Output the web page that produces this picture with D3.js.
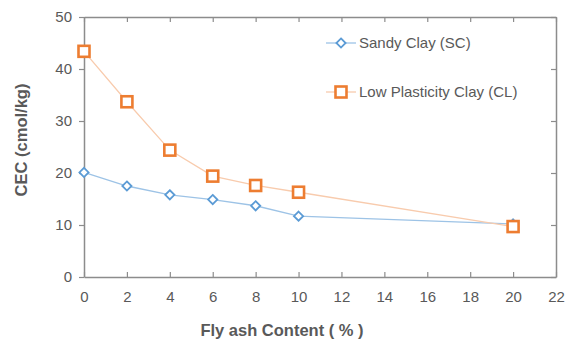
<!DOCTYPE html>
<html>
<head>
<meta charset="utf-8">
<script src="https://cdn.jsdelivr.net/npm/d3@7/dist/d3.min.js"></script>
<style>
  html, body { margin: 0; padding: 0; background: #fff; }
  svg { display: block; font-family: "Liberation Sans", Arial, sans-serif; }
</style>
</head>
<body>
<svg id="chart" width="572" height="341"></svg>
<script>
// Fly ash content (%) and cation exchange capacity for the two soils
const flyAsh = [0, 2, 4, 6, 8, 10, 20];
const sandyClay = [20.1, 17.5, 15.8, 14.9, 13.7, 11.7, 10.2];
const lowPlasticityClay = [43.4, 33.7, 24.4, 19.4, 17.6, 16.3, 9.7];
const xTicks = [0, 2, 4, 6, 8, 10, 12, 14, 16, 18, 20, 22];
const yTicks = [0, 10, 20, 30, 40, 50];
const seriesNames = ["Sandy Clay (SC)", "Low Plasticity Clay (CL)"];

const svg = d3.select("#chart");
const margin = { left: 84, right: 16, top: 17, bottom: 64 };
const W = 572, H = 341;

const x = d3.scaleLinear().domain([0, 22]).range([margin.left, W - margin.right]);
const y = d3.scaleLinear().domain([0, 50]).range([H - margin.bottom, margin.top]);

const axisColor = "#8c8c8c";
const textColor = "#595959";

// frame axes
const gx = svg.append("g").attr("transform", `translate(0,${y(0)})`)
  .call(d3.axisBottom(x).tickValues(xTicks).tickSizeInner(-5).tickSizeOuter(0).tickPadding(14));
const gxTop = svg.append("g").attr("transform", `translate(0,${y(50)})`)
  .call(d3.axisTop(x).tickValues(xTicks).tickSizeInner(-5).tickSizeOuter(0).tickFormat(""));
const gy = svg.append("g").attr("transform", `translate(${x(0)},0)`)
  .call(d3.axisLeft(y).tickValues(yTicks).tickSizeInner(5).tickSizeOuter(0).tickPadding(7));
const gyRight = svg.append("g").attr("transform", `translate(${x(22)},0)`)
  .call(d3.axisRight(y).tickValues(yTicks).tickSizeInner(-5).tickSizeOuter(0).tickFormat(""));

[gx, gxTop, gy, gyRight].forEach(g => {
  g.select(".domain").attr("stroke", axisColor).attr("stroke-width", 1.5);
  g.selectAll(".tick line").attr("stroke", axisColor).attr("stroke-width", 1.2);
  g.selectAll(".tick text").attr("fill", textColor).style("font-size", "15px");
});

// axis titles
svg.append("text")
  .attr("x", 282).attr("y", 336)
  .attr("text-anchor", "middle")
  .attr("fill", textColor).style("font-size", "16.5px").style("font-weight", "bold")
  .text("Fly ash Content ( % )");
svg.append("text")
  .attr("transform", `translate(27,140) rotate(-90)`)
  .attr("text-anchor", "middle")
  .attr("fill", textColor).style("font-size", "16.5px").style("font-weight", "bold")
  .text("CEC (cmol/kg)");

const series = [
  { name: seriesNames[0], values: sandyClay, line: "#9dc3e6", mark: "#5b9bd5", shape: "diamond" },
  { name: seriesNames[1], values: lowPlasticityClay, line: "#f8cbad", mark: "#ed7d31", shape: "square" }
];

const lineGen = d3.line().x((d, i) => x(flyAsh[i])).y(d => y(d));

function drawMarker(g, shape, color, cx, cy) {
  if (shape === "square") {
    g.append("rect").attr("x", cx - 5.5).attr("y", cy - 5.5)
      .attr("width", 11).attr("height", 11)
      .attr("fill", "#fff").attr("stroke", color).attr("stroke-width", 2.6);
  } else {
    const s = 4.6;
    g.append("path").attr("d", `M${cx},${cy - s}L${cx + s},${cy}L${cx},${cy + s}L${cx - s},${cy}Z`)
      .attr("fill", "#fff").attr("stroke", color).attr("stroke-width", 1.8);
  }
}

series.forEach(s => {
  svg.append("path").datum(s.values)
    .attr("d", lineGen).attr("fill", "none")
    .attr("stroke", s.line).attr("stroke-width", 1.3);
});
series.forEach(s => {
  const g = svg.append("g");
  s.values.forEach((v, i) => drawMarker(g, s.shape, s.mark, x(flyAsh[i]), y(v)));
});

// legend
const legendY = [43, 92];
series.forEach((s, i) => {
  const g = svg.append("g");
  g.append("line").attr("x1", 326).attr("x2", 356)
    .attr("y1", legendY[i]).attr("y2", legendY[i])
    .attr("stroke", s.line).attr("stroke-width", 1.3);
  drawMarker(g, s.shape, s.mark, 341, legendY[i]);
  g.append("text").attr("x", 359).attr("y", legendY[i] + 5)
    .attr("fill", textColor).style("font-size", "15px")
    .text(s.name);
});
</script>
</body>
</html>
